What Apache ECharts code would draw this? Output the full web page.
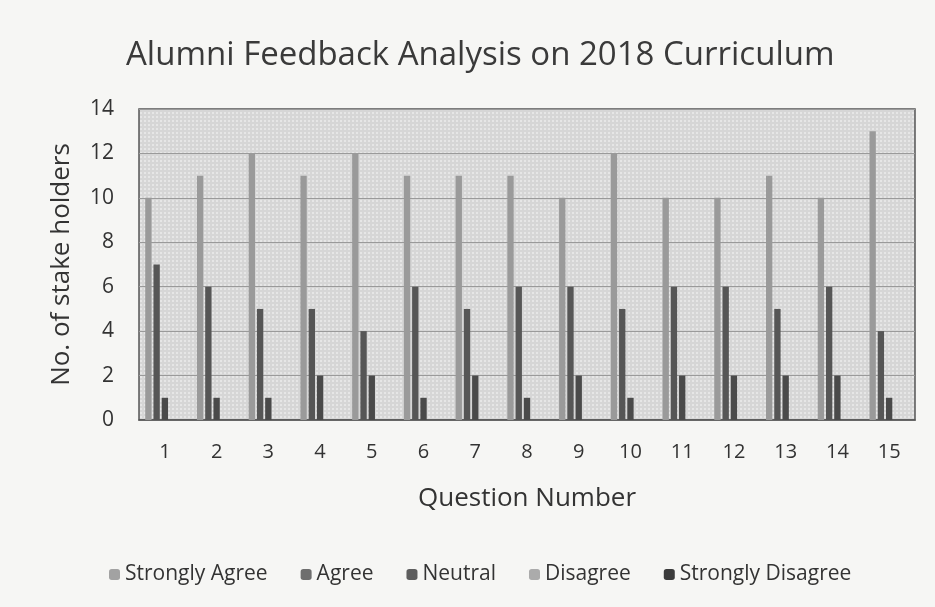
<!DOCTYPE html>
<html>
<head>
<meta charset="utf-8">
<script src="https://cdn.jsdelivr.net/npm/echarts@6/dist/echarts.min.js"></script>
<style>
  html, body { margin: 0; padding: 0; background: #f6f6f4; }
  #chart { width: 935px; height: 607px; }
</style>
</head>
<body>
<div id="chart"></div>
<script>
const questions = ["1", "2", "3", "4", "5", "6", "7", "8", "9", "10", "11", "12", "13", "14", "15"];
const stronglyAgree = [10, 11, 12, 11, 12, 11, 11, 11, 10, 12, 10, 10, 11, 10, 13];
const agree = [7, 6, 5, 5, 4, 6, 5, 6, 6, 5, 6, 6, 5, 6, 4];
const neutral = [1, 1, 1, 2, 2, 1, 2, 1, 2, 1, 2, 2, 2, 2, 1];
const disagree = [0, 0, 0, 0, 0, 0, 0, 0, 0, 0, 0, 0, 0, 0, 0];
const stronglyDisagree = [0, 0, 0, 0, 0, 0, 0, 0, 0, 0, 0, 0, 0, 0, 0];

const font = "'Open Sans', 'Noto Sans', sans-serif";

// dotted fill like the scanned plot area
const dots = document.createElement("canvas");
dots.width = 4;
dots.height = 4;
const dctx = dots.getContext("2d");
dctx.fillStyle = "#d6d6d6";
dctx.fillRect(0, 0, 4, 4);
dctx.fillStyle = "#e6e6e6";
dctx.fillRect(0, 0, 2, 2);

function bar(name, data, color) {
  return {
    name: name,
    type: "bar",
    data: data,
    barGap: "30%",
    barCategoryGap: "24%",
    label: { show: false },
    itemStyle: { color: color },
    emphasis: { disabled: true },
  };
}

const chart = echarts.init(document.getElementById("chart"));

chart.setOption({
  backgroundColor: "#f6f6f4",
  animation: false,
  textStyle: { fontFamily: font },
  title: {
    text: "Alumni Feedback Analysis on 2018 Curriculum",
    left: 121,
    top: 34,
    textStyle: { fontFamily: font, fontSize: 33, fontWeight: "normal", color: "#3a3a3a" },
  },
  legend: {
    bottom: 17,
    left: 104,
    itemWidth: 11,
    itemHeight: 11,
    itemGap: 33,
    textStyle: { fontFamily: font, fontSize: 21, color: "#333" },
    data: [
      { name: "Strongly Agree", itemStyle: { color: "#a2a2a2" } },
      { name: "Agree", itemStyle: { color: "#6e6e6e" } },
      { name: "Neutral", itemStyle: { color: "#5e5e5e" } },
      { name: "Disagree", itemStyle: { color: "#ababab" } },
      { name: "Strongly Disagree", itemStyle: { color: "#3c3c3c" } },
    ],
  },
  grid: {
    left: 139,
    right: 20,
    top: 109,
    bottom: 187,
    show: true,
    backgroundColor: { image: dots, repeat: "repeat" },
    borderColor: "#555",
    borderWidth: 1.5,
  },
  xAxis: {
    type: "category",
    data: questions,
    name: "Question Number",
    nameLocation: "middle",
    nameGap: 66,
    nameTextStyle: { fontFamily: font, fontSize: 26, color: "#333" },
    axisLine: { lineStyle: { color: "#555", width: 1.5 } },
    axisTick: { show: false },
    axisLabel: { fontFamily: font, fontSize: 20, color: "#333", margin: 22 },
  },
  yAxis: {
    type: "value",
    min: 0,
    max: 14,
    interval: 2,
    name: "No. of stake holders",
    nameLocation: "middle",
    nameGap: 64,
    nameTextStyle: { fontFamily: font, fontSize: 26, color: "#333" },
    axisLine: { show: false },
    axisTick: { show: false },
    axisLabel: { fontFamily: font, fontSize: 21, color: "#333", margin: 25 },
    splitLine: { lineStyle: { color: "#9a9a9a", width: 1 } },
  },
  series: [
    bar("Strongly Agree", stronglyAgree, "#9a9a9a"),
    bar("Agree", agree, "#565656"),
    bar("Neutral", neutral, "#4a4a4a"),
    bar("Disagree", disagree, "#a8a8a8"),
    bar("Strongly Disagree", stronglyDisagree, "#3c3c3c"),
  ],
});
</script>
</body>
</html>
